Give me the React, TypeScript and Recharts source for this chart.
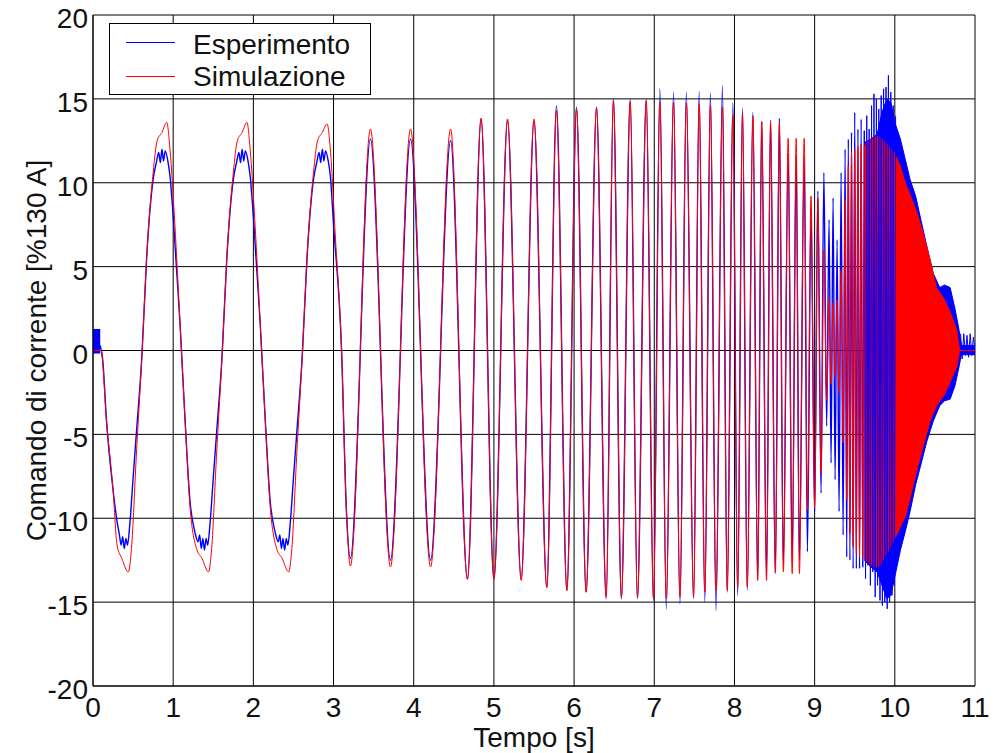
import React from 'react';
import { ComposedChart, Line, Area, XAxis, YAxis, CartesianGrid, Legend, Label } from 'recharts';

const FONT = '"Liberation Sans", Arial, Helvetica, sans-serif';
const BLUE = '#0000ff';
const RED = '#ff0000';

// ---------- axes / labels ----------
const timeTicks = [0, 1, 2, 3, 4, 5, 6, 7, 8, 9, 10, 11];
const valueTicks = [-20, -15, -10, -5, 0, 5, 10, 15, 20];
const legendLabels = ['Esperimento', 'Simulazione'];
const xAxisTitle = 'Tempo [s]';
const yAxisTitle = 'Comando di corrente [%130 A]';

// ---------- Simulazione (red) : [t, value] ----------
const simLowFreq = [
  [0, 0], [0.1, 0], [0.17, -4.3], [0.25, -8.3], [0.3, -11.6], [0.36, -12.4], [0.44, -13.2], [0.48, -11.8],
  [0.54, -6.3], [0.61, -0.3], [0.67, 5.6], [0.75, 10.6], [0.8, 12.5], [0.86, 13.0], [0.92, 13.6], [0.96, 12.0],
  [1.02, 7.6], [1.085, 1.65], [1.15, -4.3], [1.21, -9.3], [1.29, -11.8], [1.36, -12.4], [1.44, -13.2], [1.48, -11.8],
  [1.54, -6.3], [1.61, -0.3], [1.67, 5.6], [1.75, 10.6], [1.8, 12.5], [1.86, 13.0], [1.92, 13.6], [1.96, 12.0],
  [2.02, 7.6], [2.085, 1.65], [2.15, -4.3], [2.21, -9.3], [2.29, -11.8], [2.36, -12.4], [2.44, -13.2], [2.48, -11.8],
  [2.54, -6.3], [2.61, -0.3], [2.67, 5.6], [2.75, 10.6], [2.8, 12.5], [2.86, 13.0], [2.92, 13.5], [2.96, 12.0],
  [3.02, 7.0], [3.1, 0], [3.16, -9.5],
];
const simSweep = [
  [3.21, -12.85], [3.46, 13.2], [3.71, -12.9], [3.96, 13.2], [4.21, -12.9], [4.46, 13.2],
  [4.67, -13.65], [4.84, 13.85], [5.0, -13.65], [5.17, 13.8], [5.34, -13.7], [5.5, 13.8],
  [5.66, -14.15], [5.78, 14.3], [5.91, -14.3], [6.03, 14.4], [6.15, -14.4], [6.28, 14.45],
  [6.4, -14.7], [6.49, 14.9], [6.59, -14.7], [6.7, 14.85], [6.79, -14.7], [6.9, 14.9],
  [6.99, -14.8], [7.07, 14.8], [7.15, -14.8], [7.24, 14.8], [7.32, -14.7], [7.4, 14.75],
  [7.49, -14.7], [7.56, 14.7], [7.63, -14.4], [7.7, 14.6], [7.77, -14.3], [7.85, 14.5],
  [7.91, -14.3], [7.98, 14.0], [8.04, -14.1], [8.1, 14.1], [8.16, -14.1], [8.23, 14.0],
  [8.29, -13.7], [8.34, 13.65], [8.4, -13.7], [8.45, 13.6], [8.51, -13.2], [8.56, 13.6],
  [8.61, -13.2], [8.67, 12.65], [8.72, -13.3], [8.77, 12.65], [8.81, -13.3], [8.87, 12.65],
];
const simTransition = [
  [8.91, -9.5], [8.955, 9.2], [9.0, -9.4], [9.04, 9.1], [9.08, -7.3], [9.115, 6.0], [9.15, -3.0], [9.18, 3.0],
  [9.205, -2.0], [9.23, 2.8], [9.255, -1.6], [9.28, 3.0], [9.305, -2.5], [9.33, 4.8], [9.355, -5.5], [9.38, 9.0],
  [9.4, -8.9], [9.42, 11.0], [9.44, -10.9], [9.46, 11.8], [9.48, -11.7], [9.5, 12.0], [9.52, -12.1], [9.54, 12.2],
  [9.56, -12.3], [9.58, 12.3], [9.6, -12.4], [9.62, 12.2],
];
// dense part: [t, lower envelope, upper envelope]
const simEnvelope = [
  [9.62, -12.4, 12.2], [9.66, -12.6, 12.5], [9.74, -12.9, 12.7], [9.78, -12.9, 12.8], [9.82, -12.8, 12.7],
  [9.9, -12.1, 12.3], [9.99, -11.3, 11.8], [10.07, -10.5, 11.0], [10.13, -9.9, 10.0], [10.19, -8.8, 9.3],
  [10.27, -7.2, 8.3], [10.36, -5.6, 6.9], [10.44, -4.2, 5.4], [10.52, -3.3, 3.75], [10.61, -2.7, 3.1],
  [10.69, -1.9, 2.3], [10.77, -1.0, 1.25], [10.81, 0, 0],
];
const simTail = [[10.81, 0], [11.0, 0]];

// ---------- Esperimento (blue) ----------
const expStartNoise = [[0, -0.15, 1.25], [0.09, -0.15, 1.25]];
const expLowFreq = [
  [0.09, 0.3], [0.12, -0.5], [0.17, -4.3], [0.25, -8.3], [0.3, -10.2], [0.33, -11.0], [0.35, -11.6], [0.37, -11.1],
  [0.39, -11.8], [0.41, -11.2], [0.43, -11.6], [0.46, -10.3], [0.5, -7.6], [0.54, -5.0], [0.61, -0.3], [0.67, 5.6],
  [0.75, 10.2], [0.79, 11.2], [0.82, 11.8], [0.84, 11.2], [0.86, 12.0], [0.88, 11.3], [0.9, 11.9], [0.93, 11.4],
  [0.96, 10.4], [1.0, 8.0], [1.085, 1.65], [1.15, -4.3], [1.21, -9.0], [1.27, -10.8], [1.31, -11.4], [1.33, -11.0],
  [1.35, -11.8], [1.37, -11.2], [1.39, -11.9], [1.41, -11.2], [1.43, -11.6], [1.46, -10.3], [1.5, -7.6], [1.54, -5.0],
  [1.61, -0.3], [1.67, 5.6], [1.75, 10.2], [1.79, 11.2], [1.82, 11.8], [1.84, 11.2], [1.86, 12.0], [1.88, 11.3],
  [1.9, 11.9], [1.93, 11.4], [1.96, 10.4], [2.0, 8.0], [2.085, 1.65], [2.15, -4.3], [2.21, -9.0], [2.27, -10.8],
  [2.31, -11.4], [2.33, -11.0], [2.35, -11.8], [2.37, -11.2], [2.39, -11.9], [2.41, -11.2], [2.43, -11.6], [2.46, -10.3],
  [2.5, -7.6], [2.54, -5.0], [2.61, -0.3], [2.67, 5.6], [2.75, 10.2], [2.79, 11.2], [2.82, 11.8], [2.84, 11.2],
  [2.86, 12.0], [2.88, 11.3], [2.9, 11.9], [2.93, 11.4], [2.96, 10.4], [3.0, 7.5], [3.1, 0], [3.16, -9.5],
];
const expSweep = [
  [3.21, -12.4], [3.46, 12.6], [3.71, -12.5], [3.96, 12.6], [4.21, -12.5], [4.46, 12.5],
  [4.67, -13.6], [4.84, 13.8], [5.0, -13.6], [5.17, 13.7], [5.34, -13.6], [5.5, 13.7],
  [5.66, -14.1], [5.78, 14.6], [5.91, -14.3], [6.03, 14.5], [6.15, -14.4], [6.28, 14.5],
  [6.4, -14.8], [6.49, 15.0], [6.59, -14.8], [6.7, 14.95], [6.79, -14.8], [6.9, 14.95],
  [6.99, -14.9], [7.07, 15.6], [7.15, -15.4], [7.24, 15.4], [7.32, -15.1], [7.4, 15.4],
  [7.49, -14.8], [7.56, 15.45], [7.63, -15.0], [7.7, 15.35], [7.77, -15.5], [7.85, 15.8],
  [7.91, -14.4], [7.98, 14.75], [8.04, -14.6], [8.1, 14.45], [8.16, -14.3], [8.23, 14.2],
  [8.29, -13.7], [8.34, 13.65], [8.4, -13.4], [8.45, 13.75], [8.51, -13.3], [8.56, 13.85],
  [8.61, -12.8], [8.67, 11.8], [8.72, -12.6], [8.77, 11.6], [8.81, -12.5], [8.87, 11.5],
];
const expTransition = [
  [8.91, -12.0], [8.955, 8.5], [9.0, -9.6], [9.04, 9.5], [9.08, -8.5], [9.115, 10.6], [9.15, -4.5], [9.18, 7.8],
  [9.205, -6.7], [9.23, 9.1], [9.255, -7.7], [9.28, 6.6], [9.305, -9.6], [9.33, 10.6], [9.355, -11.0], [9.38, 12.0],
  [9.4, -12.3], [9.42, 12.6], [9.44, -12.5], [9.46, 13.0], [9.48, -13.0], [9.5, 14.2], [9.52, -13.0], [9.54, 13.2],
  [9.56, -13.0], [9.58, 13.8], [9.6, -12.9], [9.62, 13.1],
];
const expSpikes = [
  [9.62, 13.1], [9.635, -13.6], [9.65, 14.0], [9.665, -12.8], [9.68, 13.2], [9.695, -14.0], [9.71, 14.6],
  [9.725, -13.2], [9.74, 15.3], [9.755, -14.7], [9.77, 15.0], [9.785, -14.0], [9.8, 14.4], [9.815, -14.9],
  [9.83, 15.2], [9.845, -15.2], [9.86, 15.6], [9.875, -15.0], [9.89, 15.7], [9.905, -15.4], [9.92, 16.4],
  [9.935, -15.0], [9.95, 15.4], [9.965, -14.6], [9.98, 14.6], [9.995, -14.0], [10.01, 14.0],
];
const expEnvelope = [
  [9.62, -12.5, 12.4], [9.7, -12.9, 12.6], [9.78, -13.2, 12.9], [9.84, -14.0, 14.2], [9.9, -14.8, 15.0],
  [9.95, -14.6, 14.8], [10.0, -13.5, 13.6], [10.07, -11.9, 12.6], [10.13, -10.8, 11.4], [10.19, -9.6, 10.2],
  [10.26, -8.0, 9.2], [10.32, -6.9, 7.9], [10.4, -5.4, 6.2], [10.48, -4.2, 4.6], [10.56, -3.3, 3.75],
  [10.62, -3.0, 3.9], [10.69, -2.9, 3.75], [10.75, -2.1, 2.5], [10.8, -1.0, 1.25], [10.83, -0.25, 0.3],
  [11.0, -0.25, 0.3],
];
const expTail = [
  [10.82, 1.0], [10.84, -0.5], [10.86, 1.0], [10.88, -0.3], [10.9, 0.9], [10.92, -0.4], [10.94, 1.0],
  [10.96, -0.3], [10.98, 0.8], [11.0, 0],
];

// ---------- tables for the library ----------
const toPoints = (a: number[][]) => a.map(([t, v]) => ({ t, v }));
const toBand = (a: number[][]) => a.map(([t, lo, hi]) => ({ t, r: [lo, hi] }));

const simLineData = toPoints([...simLowFreq, ...simSweep, ...simTransition]);
const simBandData = toBand(simEnvelope);
const simTailData = toPoints(simTail);
const expLineData = toPoints([...expLowFreq, ...expSweep, ...expTransition]);
const expSpikeData = toPoints(expSpikes);
const expBandData = toBand(expEnvelope);
const expStartData = toBand(expStartNoise);
const expTailData = toPoints(expTail);

const XTick = (p: any) => (
  <text x={p.x} y={p.y + 23} textAnchor="middle" fontSize={28} fontFamily={FONT} fill="#111">
    {p.payload.value}
  </text>
);
const YTick = (p: any) => (
  <text x={p.x} y={p.y + 13} textAnchor="end" fontSize={28} fontFamily={FONT} fill="#111">
    {p.payload.value}
  </text>
);

const XTitle = (p: any) => {
  const vb = p.viewBox || { x: 93, y: 686, width: 882, height: 67 };
  return (
    <text x={vb.x + vb.width / 2} y={vb.y + 61} textAnchor="middle" fontSize={28} fontFamily={FONT} fill="#111">
      {xAxisTitle}
    </text>
  );
};
const YTitle = (p: any) => {
  const vb = p.viewBox || { x: 0, y: 15, width: 93, height: 671 };
  const cx = vb.x + 36;
  const cy = vb.y + vb.height / 2;
  return (
    <text x={cx} y={cy} transform={`rotate(-90 ${cx} ${cy})`} textAnchor="middle" dominantBaseline="central"
      fontSize={28} fontFamily={FONT} fill="#111">
      {yAxisTitle}
    </text>
  );
};

const legendColors = [BLUE, RED];
const LegendBox = () => (
  <svg width={262} height={72} style={{ display: 'block' }}>
    <rect x={0.5} y={0.5} width={261} height={71} fill="#fff" stroke="#000" strokeWidth={1} />
    {legendLabels.map((label, i) => (
      <g key={label}>
        <line x1={17} x2={66} y1={19.5 + i * 34} y2={19.5 + i * 34} stroke={legendColors[i]} strokeWidth={1} />
        <text x={84} y={31 + i * 32} fontSize={28} fontFamily={FONT} fill="#111">{label}</text>
      </g>
    ))}
  </svg>
);

export default function App() {
  return (
    <div style={{ position: 'absolute', left: 0, top: 0, width: 1002, height: 753, background: '#fff' }}>
      <ComposedChart width={1002} height={753} margin={{ top: 15, right: 27, bottom: 0, left: 0 }}>
        <CartesianGrid stroke="#000" strokeWidth={1} />
        <XAxis type="number" dataKey="t" domain={[0, 11]} ticks={timeTicks} interval={0} height={67}
          tick={XTick} tickLine={false} axisLine={{ stroke: '#000' }} allowDataOverflow>
          <Label content={XTitle} />
        </XAxis>
        <YAxis type="number" domain={[-20, 20]} ticks={valueTicks} interval={0} width={93}
          tick={YTick} tickLine={false} tickSize={3} tickMargin={2} axisLine={{ stroke: '#000' }} allowDataOverflow>
          <Label content={YTitle} />
        </YAxis>
        <Legend content={LegendBox} layout="vertical" align="center" verticalAlign="middle"
          wrapperStyle={{ left: 109, top: 23, width: 262, height: 72 }} />

        <Area data={expStartData} dataKey="r" type="linear" stroke={BLUE} fill={BLUE} fillOpacity={1}
          strokeWidth={1} dot={false} activeDot={false} isAnimationActive={false} />
        <Line data={expLineData} dataKey="v" type="monotone" stroke={BLUE} strokeWidth={1.4}
          dot={false} activeDot={false} isAnimationActive={false} />
        <Line data={expSpikeData} dataKey="v" type="linear" stroke={BLUE} strokeWidth={1}
          dot={false} activeDot={false} isAnimationActive={false} />
        <Area data={expBandData} dataKey="r" type="linear" stroke={BLUE} fill={BLUE} fillOpacity={1}
          strokeWidth={1} dot={false} activeDot={false} isAnimationActive={false} />
        <Line data={expTailData} dataKey="v" type="linear" stroke={BLUE} strokeWidth={1}
          dot={false} activeDot={false} isAnimationActive={false} />

        <Line data={simLineData} dataKey="v" type="monotone" stroke={RED} strokeWidth={1}
          dot={false} activeDot={false} isAnimationActive={false} />
        <Area data={simBandData} dataKey="r" type="linear" stroke={RED} fill={RED} fillOpacity={1}
          strokeWidth={1} dot={false} activeDot={false} isAnimationActive={false} />
        <Line data={simTailData} dataKey="v" type="linear" stroke={RED} strokeWidth={1}
          dot={false} activeDot={false} isAnimationActive={false} />
      </ComposedChart>
    </div>
  );
}
